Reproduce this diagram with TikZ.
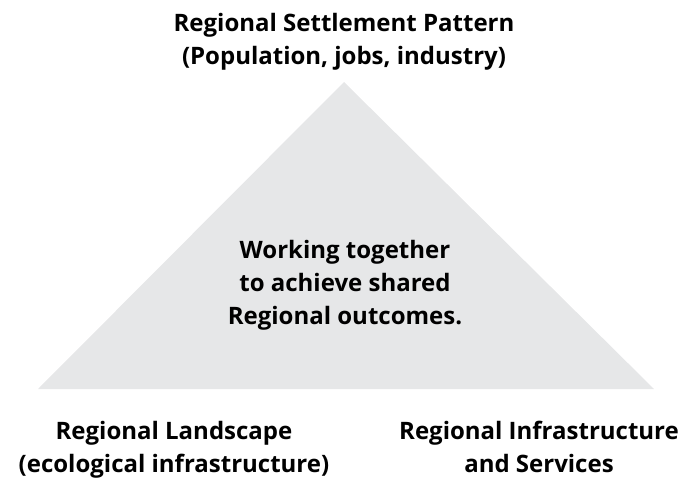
\documentclass[tikz,border=0pt]{standalone}
\usepackage{fontspec}
\setmainfont{Open Sans}
\usepackage{tikz}
\definecolor{pyramidgray}{HTML}{E6E7E8}
\tikzset{
    label text/.style={font=\fontsize{24}{33}\selectfont\bfseries, align=center, inner sep=0pt},
}

\begin{document}
\begin{tikzpicture}[x=1pt, y=-1pt]
    \useasboundingbox (0,0) rectangle (683,479);
    \def\apexx{344}
    \def\apexy{82}
    \def\basey{389}
    % shared triangle
    \coordinate (apex) at (\apexx,\apexy);
    \coordinate (leftcorner) at (38,\basey);
    \coordinate (rightcorner) at (654,\basey);
    \fill[pyramidgray] (apex) -- (rightcorner) -- (leftcorner) -- cycle;
    % corner labels
    \node[label text] (settlement) at (344,42) {Regional Settlement Pattern\\(Population, jobs, industry)};
    \node[label text] (landscape) at (174,450) {Regional Landscape\\(ecological infrastructure)};
    \node[label text] (infrastructure) at (539,447) {Regional Infrastructure\\and Services};
    % centre statement
    \node[label text] (outcomes) at (345,285) {Working together\\to achieve shared\\Regional outcomes.};
\end{tikzpicture}
\end{document}
